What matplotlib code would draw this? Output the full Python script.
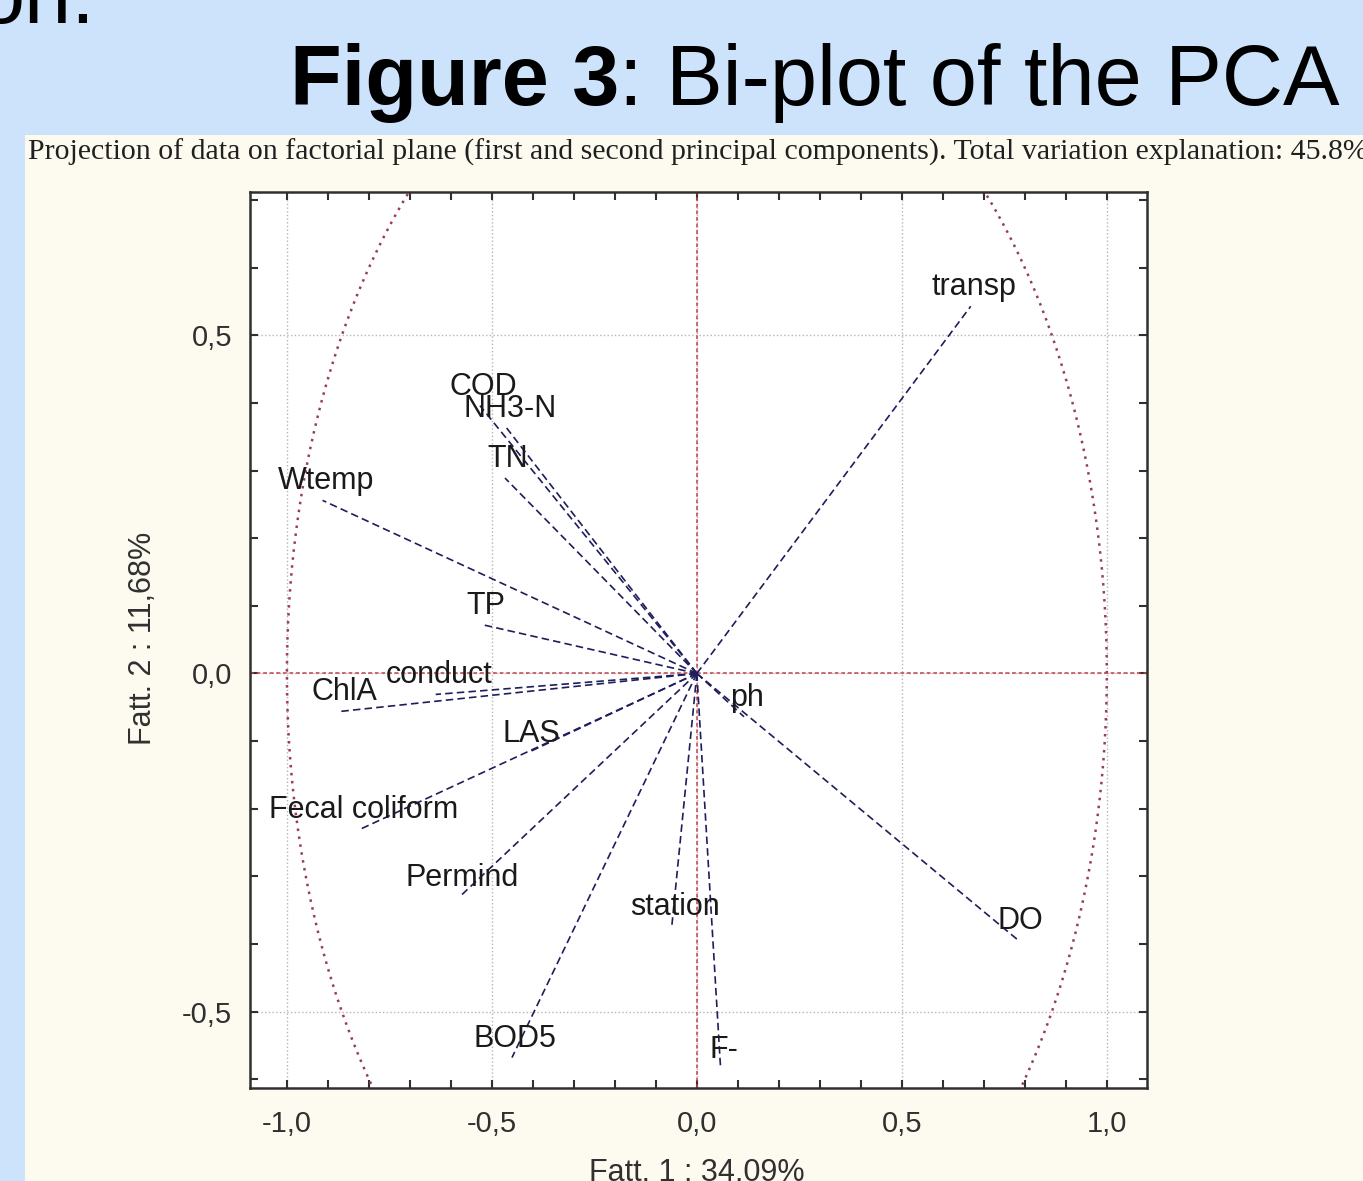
import numpy as np
import matplotlib
matplotlib.use('Agg')
import matplotlib.pyplot as plt
from matplotlib.patches import Rectangle
from matplotlib.ticker import MultipleLocator, FuncFormatter

# ---- data (factor loadings) ----
variables = ['transp', 'COD', 'NH3-N', 'TN', 'Wtemp', 'TP', 'ChlA', 'conduct',
             'LAS', 'Fecal coliform', 'Permind', 'BOD5', 'station', 'F-', 'ph', 'DO']
factor1 = [0.668, -0.529, -0.464, -0.468, -0.913, -0.522, -0.868, -0.637,
           -0.412, -0.820, -0.580, -0.451, -0.061, 0.058, 0.115, 0.783]
factor2 = [0.543, 0.396, 0.363, 0.289, 0.256, 0.072, -0.056, -0.031,
           -0.117, -0.230, -0.331, -0.568, -0.373, -0.585, -0.064, -0.394]

title_bold = 'Figure 3'
title_rest = ': Bi-plot of the PCA'
subtitle = ('Projection of data on factorial plane (first and second principal components). '
            'Total variation explanation: 45.8%')
xlabel = 'Fatt. 1 : 34,09%'
ylabel = 'Fatt. 2 : 11,68%'

W, H = 1363, 1181
fig = plt.figure(figsize=(W / 100, H / 100), dpi=100)
fig.patch.set_facecolor('#cde2fb')
SANS = ['Liberation Sans', 'DejaVu Sans']

# cream panel
fig.patches.append(Rectangle((25 / W, 0), 1 - 25 / W, 1 - 135 / H, transform=fig.transFigure,
                             facecolor='#fdfaf0', edgecolor='none', zorder=-5))

# partial slide text at the top-left
fig.text(95 / W, 1 - 23 / H, 'on.', ha='right', va='baseline', fontsize=61, family=SANS)

# title
t1 = fig.text(290 / W, 1 - 105 / H, title_bold, ha='left', va='baseline', fontsize=61,
              weight='bold', family=SANS)
r = fig.canvas.get_renderer()
bb = t1.get_window_extent(renderer=r)
fig.text(bb.x1 / W, 1 - 105 / H, title_rest, ha='left', va='baseline', fontsize=61, family=SANS)

# subtitle
fig.text(28 / W, 1 - 152 / H, subtitle, ha='left', va='center', fontsize=21.5,
         family=['Liberation Serif', 'DejaVu Serif'], color='#202020')

ax = fig.add_axes([250 / W, 1 - 1088 / H, (1147 - 250) / W, (1088 - 192) / H])
ax.set_zorder(2)
ax.set_facecolor('white')
ax.set_xlim(-1.09, 1.098)
ax.set_ylim(-0.613, 0.712)

# grid
ax.grid(True, which='major', ls=':', color='#b5b5b5', lw=1.0)
ax.set_axisbelow(True)

# unit circle
theta = np.linspace(0, 2 * np.pi, 721)
ax.plot(np.cos(theta), np.sin(theta), ls=(0, (1, 2.2)), color='#9a3c58', lw=1.8, zorder=2)

# zero lines
ax.axhline(0, color='#c0404f', ls=(0, (2.5, 1.8)), lw=1.1, zorder=2)
ax.axvline(0, color='#c0404f', ls=(0, (2.5, 1.8)), lw=1.1, zorder=2)

# vectors + labels
for name, fx, fy in zip(variables, factor1, factor2):
    ax.plot([0, fx], [0, fy], ls=(0, (4.5, 2.5)), color='#1e1e5c', lw=1.2, zorder=3)
    ax.annotate(name, xy=(fx, fy), xytext=(3, 19), textcoords='offset pixels',
                ha='center', va='center', fontsize=22, family=SANS, color='#1a1a1a', zorder=4)

# ticks
def fmt(v, pos):
    if abs(v) < 1e-9:
        return '0,0'
    return ('%.1f' % v).replace('.', ',')

ax.xaxis.set_major_locator(MultipleLocator(0.5))
ax.xaxis.set_minor_locator(MultipleLocator(0.1))
ax.yaxis.set_major_locator(MultipleLocator(0.5))
ax.yaxis.set_minor_locator(MultipleLocator(0.1))
ax.xaxis.set_major_formatter(FuncFormatter(fmt))
ax.yaxis.set_major_formatter(FuncFormatter(fmt))
ax.tick_params(which='both', direction='in', top=True, right=True, length=6, width=1.5,
               color='#303030')
ax.tick_params(axis='x', which='major', pad=16, labelsize=21, labelcolor='#303030')
ax.tick_params(axis='y', which='major', pad=13, labelsize=21, labelcolor='#303030')
for lab in ax.get_xticklabels() + ax.get_yticklabels():
    lab.set_family(SANS)
for s in ax.spines.values():
    s.set_linewidth(1.8)
    s.set_color('#303030')

# axis labels
fig.text(143 / W, 1 - 638 / H, ylabel, rotation=90, ha='center', va='center', fontsize=22,
         family=SANS, color='#303030')
fig.text(697 / W, 1 - 1158 / H, xlabel, ha='center', va='top', fontsize=22,
         family=SANS, color='#303030')

fig.savefig('out.png', dpi=100, facecolor=fig.get_facecolor())
